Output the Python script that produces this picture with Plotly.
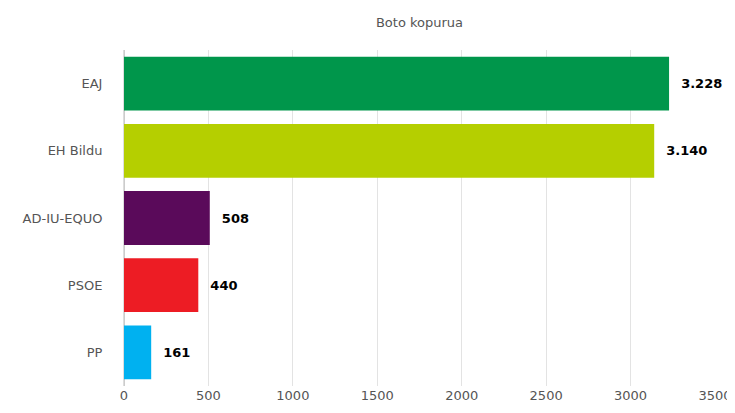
import plotly.graph_objects as go

parties = ["EAJ", "EH Bildu", "AD-IU-EQUO", "PSOE", "PP"]
votes = [3228, 3140, 508, 440, 161]
colors = ["#00964b", "#b5cf00", "#5a0a5a", "#ed1c24", "#00b1f0"]

fig = go.Figure(go.Bar(
    y=parties, x=votes, orientation="h",
    marker=dict(color=colors, line=dict(width=0)),
    text=votes, texttemplate="  %{x:,}", textposition="outside",
    textfont=dict(family="DejaVu Sans", size=13, color="#000000", weight="bold"),
    cliponaxis=False,
))
fig.update_layout(
    width=735, height=413, separators=",.",
    margin=dict(l=116, r=28, t=42, b=35, autoexpand=False),
    paper_bgcolor="white", plot_bgcolor="white",
    title=dict(text="Boto kopurua", x=0.5, xref="paper", y=0.975, yref="container",
               xanchor="center", yanchor="top",
               font=dict(family="DejaVu Sans", size=13, color="#555555")),
    bargap=0.2, showlegend=False,
    font=dict(family="DejaVu Sans", size=12, color="#555555"),
)
fig.update_xaxes(range=[0, 3500], dtick=500, showgrid=True, gridcolor="#e3e3e3",
                 zeroline=True, zerolinecolor="#cccccc", tickformat="d",
                 tickfont=dict(size=13), automargin=False)
fig.update_yaxes(autorange="reversed", ticks="", ticklabelstandoff=18,
                 tickfont=dict(size=13), showline=True, linecolor="#dddddd",
                 automargin=False)
fig.write_html("out.html")
